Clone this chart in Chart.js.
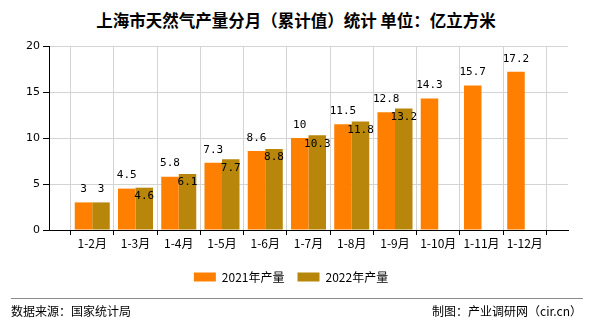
<!DOCTYPE html>
<html>
<head>
<meta charset="utf-8">
<script src="https://cdn.jsdelivr.net/npm/chart.js@4.4.0/dist/chart.umd.min.js"></script>
<style>
  body { margin: 0; width: 590px; height: 330px; background: #fff; position: relative; overflow: hidden;
         font-family: "Noto Sans CJK SC", sans-serif; color: #000; }
  #title { position: absolute; left: 0; width: 592px; top: 9px; text-align: center;
           font-size: 16.5px; line-height: 22px; font-weight: bold; white-space: nowrap; }
  #wrap { position: absolute; left: 0; top: 0; width: 590px; height: 300px; }
  #rule { position: absolute; left: 11px; right: 7px; top: 298px; height: 1px; background: #8c8c8c; }
  .foot { position: absolute; top: 302px; font-size: 12px; line-height: 18px; white-space: nowrap; }
  #src { left: 11px; }
  #by { right: 8px; }
</style>
</head>
<body>
<div id="title">上海市天然气产量分月（累计值）统计 单位：亿立方米</div>
<div id="wrap"><canvas id="chart"></canvas></div>
<div id="rule"></div>
<div class="foot" id="src">数据来源：国家统计局</div>
<div class="foot" id="by">制图：产业调研网（cir.cn）</div>
<script>
const months = ['1-2月', '1-3月', '1-4月', '1-5月', '1-6月', '1-7月', '1-8月', '1-9月', '1-10月', '1-11月', '1-12月'];
const output2021 = [3, 4.5, 5.8, 7.3, 8.6, 10, 11.5, 12.8, 14.3, 15.7, 17.2];
const output2022 = [3, 4.6, 6.1, 7.7, 8.8, 10.3, 11.8, 13.2];
const yTicks = [0, 5, 10, 15, 20];

// empty slot on each end so the months sit on the grid lines
const labels = [''].concat(months, ['']);
const pad = (arr) => [null].concat(arr, Array(labels.length - 1 - arr.length).fill(null));

const labelFont = '11px "DejaVu Sans Mono", monospace';

// value labels: 2021 above its bar, 2022 above too unless it would run into the 2021 label
const valueLabels = {
  id: 'valueLabels',
  afterDatasetsDraw(chart) {
    const ctx = chart.ctx;
    ctx.save();
    ctx.font = labelFont;
    ctx.fillStyle = '#000';
    ctx.textAlign = 'center';
    ctx.textBaseline = 'middle';
    const m0 = chart.getDatasetMeta(0);
    const m1 = chart.getDatasetMeta(1);
    const d0 = chart.data.datasets[0].data;
    const d1 = chart.data.datasets[1].data;
    d0.forEach((v, i) => {
      if (v == null) return;
      const el = m0.data[i];
      ctx.fillText(String(v), el.x, el.y - 13);
    });
    d1.forEach((v, i) => {
      if (v == null) return;
      const el = m1.data[i];
      let y = el.y - 13;
      const a = d0[i];
      if (a != null) {
        const ea = m0.data[i];
        const rightA = ea.x + ctx.measureText(String(a)).width / 2;
        const leftB = el.x - ctx.measureText(String(v)).width / 2;
        const ya = ea.y - 13;
        if (rightA + 2 > leftB && Math.abs(ya - y) < 12) y = el.y + 8.5;
      }
      ctx.fillText(String(v), el.x, y);
    });
    ctx.restore();
  }
};

new Chart(document.getElementById('chart'), {
  type: 'bar',
  data: {
    labels: labels,
    datasets: [
      { label: '2021年产量', data: pad(output2021), backgroundColor: '#ff8000', borderWidth: 0 },
      { label: '2022年产量', data: pad(output2022), backgroundColor: '#b8860b', borderWidth: 0 }
    ]
  },
  options: {
    responsive: true,
    maintainAspectRatio: false,
    animation: false,
    layout: { padding: { top: 46, right: 22, bottom: 7, left: 14 } },
    datasets: { bar: { categoryPercentage: 0.81, barPercentage: 1, grouped: true } },
    scales: {
      x: {
        offset: false,
        grid: { color: '#d4d4d4', tickColor: '#000', tickLength: 5 },
        border: { color: '#000' },
        ticks: { color: '#000', font: { family: '"Noto Sans CJK SC"', size: 12 }, autoSkip: false, maxRotation: 0, padding: 1 },
        afterFit(s) { s.height = 28; }
      },
      y: {
        min: yTicks[0],
        max: yTicks[yTicks.length - 1],
        afterBuildTicks(s) { s.ticks = yTicks.map(v => ({ value: v })); },
        grid: { color: '#d4d4d4', tickColor: '#000', tickLength: 6 },
        border: { color: '#000' },
        ticks: { color: '#000', font: { family: '"DejaVu Sans"', size: 11 }, padding: 3 },
        afterFit(s) { s.width = 35; }
      }
    },
    plugins: {
      title: { display: false },
      tooltip: { enabled: false },
      legend: {
        position: 'bottom',
        labels: { boxWidth: 22, boxHeight: 9, color: '#000', padding: 13,
                  font: { family: '"Noto Sans CJK SC"', size: 12 } }
      }
    }
  },
  plugins: [valueLabels]
});
</script>
</body>
</html>
